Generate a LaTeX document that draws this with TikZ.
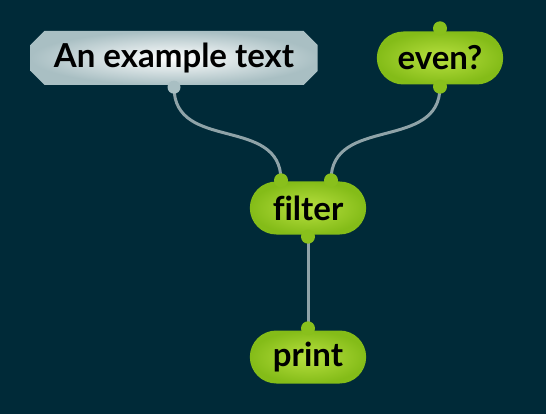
\documentclass[tikz,border=0pt]{standalone}
\usepackage{fontspec}
\setmainfont{Lato}[Ligatures=NoCommon]
\usetikzlibrary{shapes.misc}

\definecolor{bgcol}{HTML}{002A38}
\definecolor{wirecol}{HTML}{8FA3A8}
\definecolor{greenin}{HTML}{B8E040}
\definecolor{greenout}{HTML}{84BC18}
\definecolor{greydot}{HTML}{A9BFC3}

\tikzset{
  fn/.style={rounded rectangle, inner color=greenin, outer color=greenout,
    minimum width=123pt, minimum height=53pt, font=\bfseries\fontsize{33}{36}\selectfont},
  txt/.style={chamfered rectangle, chamfered rectangle xsep=7pt, chamfered rectangle ysep=7pt,
    inner color=white, outer color=greydot,
    minimum width=287pt, minimum height=54pt, font=\bfseries\fontsize{33}{36}\selectfont},
  wire/.style={draw=wirecol, line width=3pt},
  gport/.style={fill=greenout!90!greenin},
  tport/.style={fill=greydot}
}

\begin{document}
\begin{tikzpicture}[x=1pt,y=-1pt]
    \fill[bgcol] (0,0) rectangle (546,414);
    \useasboundingbox (0,0) rectangle (546,414);
    % nodes
    \node[txt] (text) at (174,58) {An example text};
    \node[fn, minimum width=133pt] (even) at (440,58) {even?};
    \node[fn] (filter) at (308,208) {filter};
    \node[fn] (print) at (308,357) {print};
    % ports
    \coordinate (text-out) at ([yshift=-2pt]text.south);
    \coordinate (even-in) at ([yshift=3pt]even.north);
    \coordinate (even-out) at ([yshift=-2pt]even.south);
    \coordinate (filter-in1) at ([xshift=-27pt,yshift=1pt]filter.north);
    \coordinate (filter-in2) at ([xshift=23pt,yshift=1pt]filter.north);
    \coordinate (filter-out) at ([yshift=-2pt]filter.south);
    \coordinate (print-in) at ([yshift=2pt]print.north);
    % wires
    \draw[wire] (text-out) .. controls ++(0,65) and ++(0,-65) .. (filter-in1);
    \draw[wire] (even-out) .. controls ++(0,65) and ++(0,-65) .. (filter-in2);
    \draw[wire] (filter-out) -- (print-in);
    % dots
    \fill[tport] (text-out) circle (6.5);
    \fill[gport] (even-in) circle (7);
    \fill[gport] (even-out) circle (7);
    \fill[gport] (filter-in1) circle (7);
    \fill[gport] (filter-in2) circle (7);
    \fill[gport] (filter-out) circle (7);
    \fill[gport] (print-in) circle (7);
\end{tikzpicture}
\end{document}
